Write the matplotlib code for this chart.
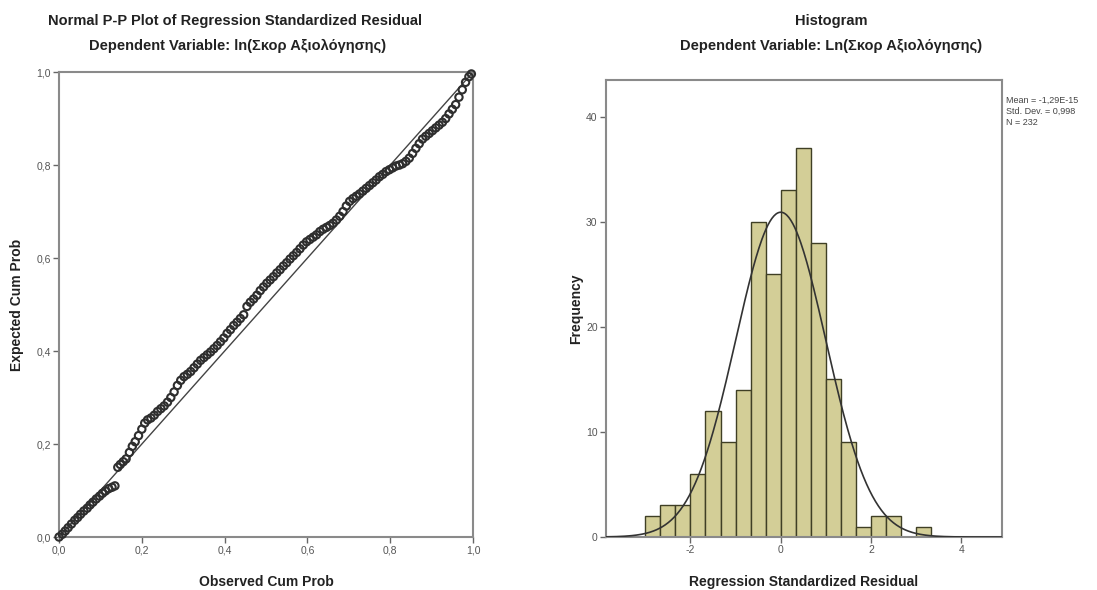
import numpy as np
import matplotlib.pyplot as plt

plt.rcParams['font.family'] = ['Liberation Sans', 'DejaVu Sans']
plt.rcParams['axes.unicode_minus'] = False

# P-P plot points
pp_obs = [0.000, 0.008, 0.015, 0.022, 0.030, 0.038, 0.045, 0.052, 0.060, 0.068,
          0.075, 0.082, 0.090, 0.098, 0.105, 0.112, 0.120, 0.128, 0.135, 0.142,
          0.148, 0.155, 0.162, 0.170, 0.177, 0.184, 0.192, 0.200, 0.207, 0.214,
          0.222, 0.230, 0.238, 0.246, 0.254, 0.262, 0.270, 0.278, 0.286, 0.294,
          0.302, 0.310, 0.318, 0.326, 0.334, 0.342, 0.350, 0.358, 0.366, 0.374,
          0.382, 0.390, 0.398, 0.406, 0.414, 0.422, 0.430, 0.438, 0.446, 0.454,
          0.462, 0.470, 0.478, 0.486, 0.494, 0.502, 0.510, 0.518, 0.526, 0.534,
          0.542, 0.550, 0.558, 0.566, 0.574, 0.582, 0.590, 0.598, 0.606, 0.614,
          0.622, 0.630, 0.638, 0.646, 0.654, 0.662, 0.670, 0.678, 0.686, 0.694,
          0.702, 0.710, 0.718, 0.726, 0.734, 0.742, 0.750, 0.758, 0.766, 0.774,
          0.782, 0.790, 0.798, 0.806, 0.814, 0.822, 0.830, 0.838, 0.846, 0.854,
          0.862, 0.870, 0.878, 0.886, 0.894, 0.902, 0.910, 0.918, 0.926, 0.934,
          0.942, 0.950, 0.958, 0.966, 0.974, 0.982, 0.990, 0.996]
pp_exp = [0.000, 0.006, 0.013, 0.020, 0.028, 0.036, 0.042, 0.049, 0.056, 0.062,
          0.069, 0.075, 0.082, 0.088, 0.094, 0.099, 0.104, 0.107, 0.110, 0.150,
          0.156, 0.162, 0.168, 0.182, 0.195, 0.205, 0.218, 0.232, 0.245, 0.252,
          0.256, 0.262, 0.270, 0.276, 0.282, 0.290, 0.300, 0.312, 0.326, 0.337,
          0.345, 0.350, 0.356, 0.364, 0.372, 0.380, 0.386, 0.392, 0.398, 0.405,
          0.412, 0.420, 0.428, 0.438, 0.446, 0.455, 0.462, 0.470, 0.478, 0.496,
          0.505, 0.512, 0.520, 0.530, 0.538, 0.546, 0.553, 0.560, 0.568, 0.575,
          0.583, 0.590, 0.598, 0.605, 0.612, 0.620, 0.628, 0.635, 0.640, 0.645,
          0.650, 0.657, 0.662, 0.666, 0.670, 0.675, 0.682, 0.690, 0.700, 0.712,
          0.722, 0.728, 0.733, 0.738, 0.744, 0.750, 0.756, 0.762, 0.768, 0.775,
          0.780, 0.786, 0.790, 0.794, 0.798, 0.800, 0.803, 0.808, 0.815, 0.825,
          0.836, 0.846, 0.856, 0.862, 0.868, 0.874, 0.880, 0.886, 0.892, 0.900,
          0.910, 0.920, 0.930, 0.946, 0.962, 0.978, 0.990, 0.996]

# histogram: bin edges (width 1/3) and counts
bin_left = [-3.0, -8/3, -7/3, -2.0, -5/3, -4/3, -1.0, -2/3, -1/3, 0.0,
            1/3, 2/3, 1.0, 4/3, 5/3, 2.0, 7/3, 8/3, 3.0]
counts = [2, 3, 3, 6, 12, 9, 14, 30, 25, 33, 37, 28, 15, 9, 1, 2, 2, 0, 1]
bin_w = 1/3
res_mean = -1.29e-15
res_sd = 0.998
res_n = 232

tick_col = '#555555'
spine_col = '#8a8a8a'

fig = plt.figure(figsize=(10.97, 5.90), dpi=100)

# ---- P-P plot ----
ax1 = fig.add_axes([0.0538, 0.0898, 0.3774, 0.788])
ax1.plot([0, 1], [0, 1], color='#444444', lw=1.0, zorder=2)
ax1.scatter(pp_obs, pp_exp, s=28, facecolors='none', edgecolors='#2e2e2e',
            linewidths=1.5, zorder=3, clip_on=False)
ax1.set_xlim(0, 1)
ax1.set_ylim(0, 1)
pticks = [0.0, 0.2, 0.4, 0.6, 0.8, 1.0]
ax1.set_xticks(pticks)
ax1.set_yticks(pticks)
ax1.set_xticklabels([f'{t:.1f}'.replace('.', ',') for t in pticks])
ax1.set_yticklabels([f'{t:.1f}'.replace('.', ',') for t in pticks])
ax1.set_xlabel('Observed Cum Prob', fontsize=10, fontweight='bold', color='#222222', labelpad=14)
ax1.set_ylabel('Expected Cum Prob', fontsize=10, fontweight='bold', color='#222222', labelpad=9)

# ---- histogram ----
ax2 = fig.add_axes([0.5524, 0.0898, 0.361, 0.7746])
ax2.bar(bin_left, counts, width=bin_w, align='edge', color='#d3ce97',
        edgecolor='#3f3f25', linewidth=1.0, zorder=2)
xs = np.linspace(-3.9, 4.9, 400)
curve = res_n * bin_w / (res_sd * np.sqrt(2 * np.pi)) * np.exp(-0.5 * ((xs - res_mean) / res_sd) ** 2)
ax2.plot(xs, curve, color='#333333', lw=1.2, zorder=3)
ax2.set_xlim(-3.87, 4.90)
ax2.set_ylim(0, 43.5)
ax2.set_xticks([-2, 0, 2, 4])
ax2.set_yticks([0, 10, 20, 30, 40])
ax2.set_xlabel('Regression Standardized Residual', fontsize=10, fontweight='bold', color='#222222', labelpad=14)
ax2.set_ylabel('Frequency', fontsize=10, fontweight='bold', color='#222222')
ax2.yaxis.set_label_coords(-0.058, 0.5)

for ax in (ax1, ax2):
    for sp in ax.spines.values():
        sp.set_color(spine_col)
        sp.set_linewidth(1.5)
    ax.tick_params(direction='out', length=4, width=1, color='#666666',
                   labelsize=7.5, labelcolor=tick_col, pad=2)

fig.text(0.214, 0.965, 'Normal P-P Plot of Regression Standardized Residual',
         ha='center', va='center', fontsize=10.5, fontweight='bold', color='#222222')
fig.text(0.217, 0.922, 'Dependent Variable: ln(Σκορ Αξιολόγησης)',
         ha='center', va='center', fontsize=10.5, fontweight='bold', color='#222222')
fig.text(0.758, 0.965, 'Histogram',
         ha='center', va='center', fontsize=10.5, fontweight='bold', color='#222222')
fig.text(0.758, 0.922, 'Dependent Variable: Ln(Σκορ Αξιολόγησης)',
         ha='center', va='center', fontsize=10.5, fontweight='bold', color='#222222')

sd_txt = f'{res_sd:.3f}'.replace('.', ',')
fig.text(0.917, 0.838, f'Mean = -1,29E-15\nStd. Dev. = {sd_txt}\nN = {res_n}',
         ha='left', va='top', fontsize=6.5, color='#444444', linespacing=1.35)

fig.savefig('out.png', dpi=100)
